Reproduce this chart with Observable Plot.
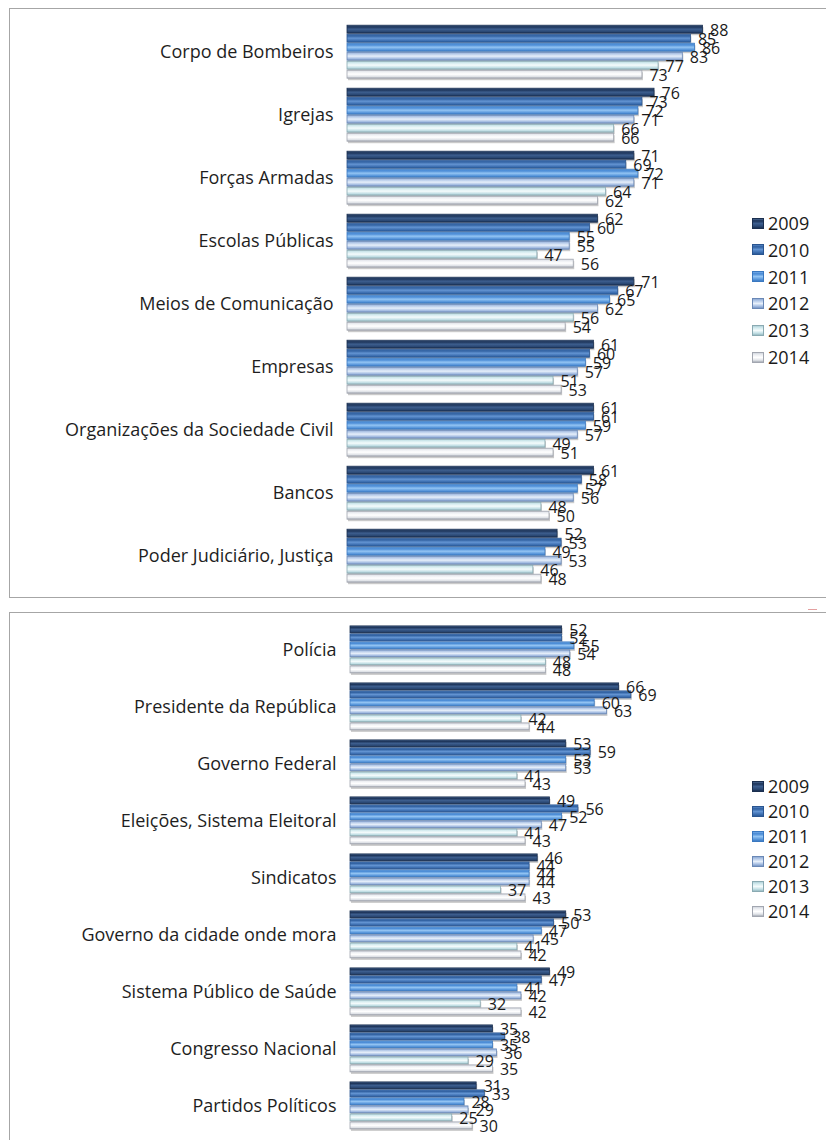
<!DOCTYPE html>
<html><head><meta charset="utf-8">
<script src="https://cdn.jsdelivr.net/npm/d3@7"></script>
<script src="https://cdn.jsdelivr.net/npm/@observablehq/plot@0.6"></script>
<style>
body{margin:0;background:#fff;width:826px;height:1140px;overflow:hidden;position:relative;font-family:"Open Sans",sans-serif}
.box{position:absolute;border:1px solid #a6a6a6;}
.chart{position:absolute;left:0}
.legend{position:absolute;left:752px;font-size:18px;color:#1a1a1a}
.legend .it{position:absolute;left:0;white-space:nowrap;display:flex;align-items:center;height:20px;margin-top:-10px}
.sw{width:12px;height:11px;margin-right:4px;box-sizing:border-box;border:1px solid}
</style></head><body>
<div class="box" style="left:9px;top:8px;width:840px;height:588px"></div>
<div class="box" style="left:9px;top:612px;width:840px;height:560px"></div>
<div style="position:absolute;left:808px;top:609px;width:9px;height:1px;background:#e4a0a0"></div>
<svg width="0" height="0" style="position:absolute"><defs id="defs"></defs></svg>
<div id="top" class="chart" style="top:0"></div>
<div id="bot" class="chart" style="top:600px"></div>
<div id="legTop" class="legend" style="top:0"></div>
<div id="legBot" class="legend" style="top:0"></div>
<script>
const years = ["2009","2010","2011","2012","2013","2014"];

const catsTop = ["Corpo de Bombeiros","Igrejas","Forças Armadas","Escolas Públicas","Meios de Comunicação","Empresas","Organizações da Sociedade Civil","Bancos","Poder Judiciário, Justiça"];
const valsTop = [
  [88,85,86,83,77,73],
  [76,73,72,71,66,66],
  [71,69,72,71,64,62],
  [62,60,55,55,47,56],
  [71,67,65,62,56,54],
  [61,60,59,57,51,53],
  [61,61,59,57,49,51],
  [61,58,57,56,48,50],
  [52,53,49,53,46,48]
];

const catsBot = ["Polícia","Presidente da República","Governo Federal","Eleições, Sistema Eleitoral","Sindicatos","Governo da cidade onde mora","Sistema Público de Saúde","Congresso Nacional","Partidos Políticos"];
const valsBot = [
  [52,52,55,54,48,48],
  [66,69,60,63,42,44],
  [53,59,53,53,41,43],
  [49,56,52,47,41,43],
  [46,44,44,44,37,43],
  [53,50,47,45,41,42],
  [49,47,41,42,32,42],
  [35,38,35,36,29,35],
  [31,33,28,29,25,30]
];

const grad = {
 "2009": {stroke:"#1b2f4f", stops:[[0,"#4a6893"],[0.2,"#1c3358"],[0.5,"#3d5e8e"],[0.8,"#2a4874"],[1,"#1a2f50"]]},
 "2010": {stroke:"#2a5590", stops:[[0,"#5585c4"],[0.2,"#2f5f9f"],[0.5,"#6394d2"],[0.8,"#3e70b2"],[1,"#2b5a98"]]},
 "2011": {stroke:"#3a78c0", stops:[[0,"#74abe8"],[0.2,"#4688d4"],[0.5,"#93c4f3"],[0.8,"#5a98dc"],[1,"#3d7cc4"]]},
 "2012": {stroke:"#6a88b6", stops:[[0,"#8eaad4"],[0.2,"#b4c9e8"],[0.5,"#e6effa"],[0.8,"#a5bde2"],[1,"#7896c4"]]},
 "2013": {stroke:"#8aaab2", stops:[[0,"#b0d0d8"],[0.2,"#d2eaee"],[0.5,"#f4fbfc"],[0.8,"#c2dfe5"],[1,"#98bac2"]]},
 "2014": {stroke:"#a2a6b0", stops:[[0,"#d2d6de"],[0.2,"#eceef2"],[0.5,"#ffffff"],[0.8,"#e0e3e8"],[1,"#a8adb6"]]}
};

// gradients
document.getElementById("defs").innerHTML = years.map(y =>
  `<linearGradient id="g${y}" x1="0" y1="0" x2="0" y2="1">` +
  grad[y].stops.map(([o,c]) => `<stop offset="${o}" stop-color="${c}"/>`).join("") +
  `</linearGradient>`).join("");

function makeChart(cats, vals, o) {
  const data = [];
  cats.forEach((c, i) => years.forEach((y, j) => data.push({cat: c, year: y, value: vals[i][j]})));
  return Plot.plot({
    width: 826, height: o.height,
    marginLeft: o.ml, marginRight: o.mr, marginTop: o.mt, marginBottom: o.mb,
    x: {domain: [0, 100], axis: null},
    y: {domain: years, axis: null, paddingInner: 0.1, paddingOuter: 0.05},
    fy: {domain: cats, paddingInner: o.p, paddingOuter: o.p / 2, axis: "left", label: null, tickSize: 0, tickPadding: 14},
    color: {type: "identity"},
    style: {fontFamily: "Open Sans", fontSize: "18px", color: "#1e1e1e", background: "transparent", overflow: "visible"},
    marks: [
      Plot.barX(data, {x: "value", y: "year", fy: "cat", fill: "#8a8a8a", fillOpacity: 0.45, dx: 1, dy: 2}),
      Plot.barX(data, {x: "value", y: "year", fy: "cat", fill: d => `url(#g${d.year})`, stroke: d => grad[d.year].stroke, strokeWidth: 0.8}),
      Plot.text(data, {x: "value", y: "year", fy: "cat", text: d => String(d.value), textAnchor: "start", dx: 7, dy: 1, fontSize: 16, fill: "#1a1a1a"})
    ]
  });
}

document.getElementById("top").append(makeChart(catsTop, valsTop, {height: 600, ml: 347, mr: 75, mt: 17.8, mb: 10.7, p: 0.07}));
document.getElementById("bot").append(makeChart(catsBot, valsBot, {height: 540, ml: 350, mr: 69, mt: 19.1, mb: 3.4, p: 0.1}));

function legend(id, y0, step) {
  const el = document.getElementById(id);
  years.forEach((y, i) => {
    const it = document.createElement("div");
    it.className = "it";
    it.style.top = (y0 + i * step) + "px";
    const sw = document.createElement("span");
    sw.className = "sw";
    sw.style.borderColor = grad[y].stroke;
    sw.style.background = `linear-gradient(to bottom, ${grad[y].stops.map(([o,c]) => `${c} ${o*100}%`).join(",")})`;
    const t = document.createElement("span");
    t.textContent = y;
    it.append(sw, t);
    el.append(it);
  });
}
legend("legTop", 223, 26.8);
legend("legBot", 786, 25);
</script>
</body></html>
